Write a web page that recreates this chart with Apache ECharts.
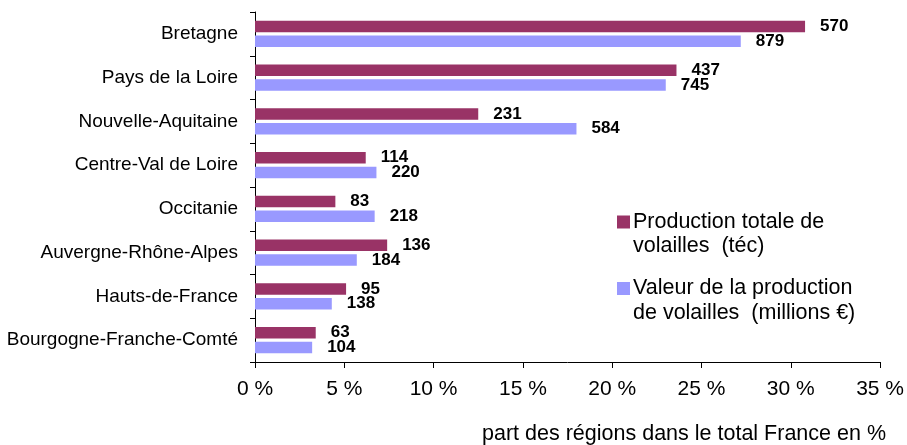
<!DOCTYPE html>
<html>
<head>
<meta charset="utf-8">
<script src="https://cdn.jsdelivr.net/npm/echarts@6/dist/echarts.min.js"></script>
<style>html,body{margin:0;padding:0;background:#fff;}#c{width:907px;height:445px;}</style>
</head>
<body>
<div id="c"></div>
<script>
const categories = ['Bretagne','Pays de la Loire','Nouvelle-Aquitaine','Centre-Val de Loire','Occitanie','Auvergne-Rhône-Alpes','Hauts-de-France','Bourgogne-Franche-Comté'];
const shareProduction = [30.8, 23.6, 12.5, 6.2, 4.5, 7.4, 5.1, 3.4];
const shareValue = [27.2, 23.0, 18.0, 6.8, 6.7, 5.7, 4.3, 3.2];
const labelsProduction = [570, 437, 231, 114, 83, 136, 95, 63];
const labelsValue = [879, 745, 584, 220, 218, 184, 138, 104];
const seriesNames = ['Production totale de volailles  (téc)', 'Valeur de la production de volailles  (millions €)'];
const xTicks = {min: 0, max: 35, interval: 5};
const axisTitle = 'part des régions dans le total France en %';

const FONT = 'Liberation Sans, Arial, sans-serif';
const C1 = '#993366', C2 = '#9999FF';

const chart = echarts.init(document.getElementById('c'));
const lab = (arr) => ({
  show: true, position: 'right', distance: 15,
  fontFamily: FONT, fontSize: 17, fontWeight: 'bold', color: '#000',
  formatter: (p) => String(arr[p.dataIndex])
});
chart.setOption({
  animation: false,
  backgroundColor: '#fff',
  title: {
    text: axisTitle, right: 21, top: 423, padding: 0,
    textStyle: {fontFamily: FONT, fontSize: 21.5, fontWeight: 'normal', color: '#000'}
  },
  grid: {left: 255, right: 22, top: 12, bottom: 83},
  legend: {
    orient: 'vertical', left: 607, top: 206, itemGap: 20,
    icon: 'none', itemWidth: 0, itemHeight: 0,
    selectedMode: false,
    data: seriesNames,
    formatter: (name) => name === seriesNames[0]
      ? '{a|}{g|}{t|Production totale de}\n{s|}{t|volailles  (téc)}'
      : '{b|}{g|}{t|Valeur de la production}\n{s|}{t|de volailles  (millions €)}',
    textStyle: {
      fontFamily: FONT, color: '#000',
      rich: {
        a: {width: 13, height: 13, backgroundColor: C1},
        b: {width: 13, height: 13, backgroundColor: C2},
        g: {width: 3},
        s: {width: 16},
        t: {fontFamily: FONT, fontSize: 21.5, lineHeight: 24.5, color: '#000'}
      }
    }
  },
  xAxis: {
    type: 'value', min: xTicks.min, max: xTicks.max, interval: xTicks.interval,
    axisLine: {show: true, lineStyle: {color: '#000', width: 1}},
    axisTick: {show: true, length: 6, lineStyle: {color: '#000'}},
    splitLine: {show: false},
    axisLabel: {formatter: '{value} %', fontFamily: FONT, fontSize: 21, color: '#000', margin: 17}
  },
  yAxis: {
    type: 'category', data: categories, inverse: true,
    axisLine: {show: true, lineStyle: {color: '#000', width: 1}},
    axisTick: {show: true, length: 5, lineStyle: {color: '#000'}},
    axisLabel: {fontFamily: FONT, fontSize: 19, color: '#000', margin: 17}
  },
  series: [
    {name: seriesNames[0], type: 'bar', data: shareProduction, barWidth: 11.5, barGap: '28%',
     itemStyle: {color: C1}, label: lab(labelsProduction)},
    {name: seriesNames[1], type: 'bar', data: shareValue, barWidth: 11.5, barGap: '28%',
     itemStyle: {color: C2}, label: lab(labelsValue)}
  ]
});
</script>
</body>
</html>
